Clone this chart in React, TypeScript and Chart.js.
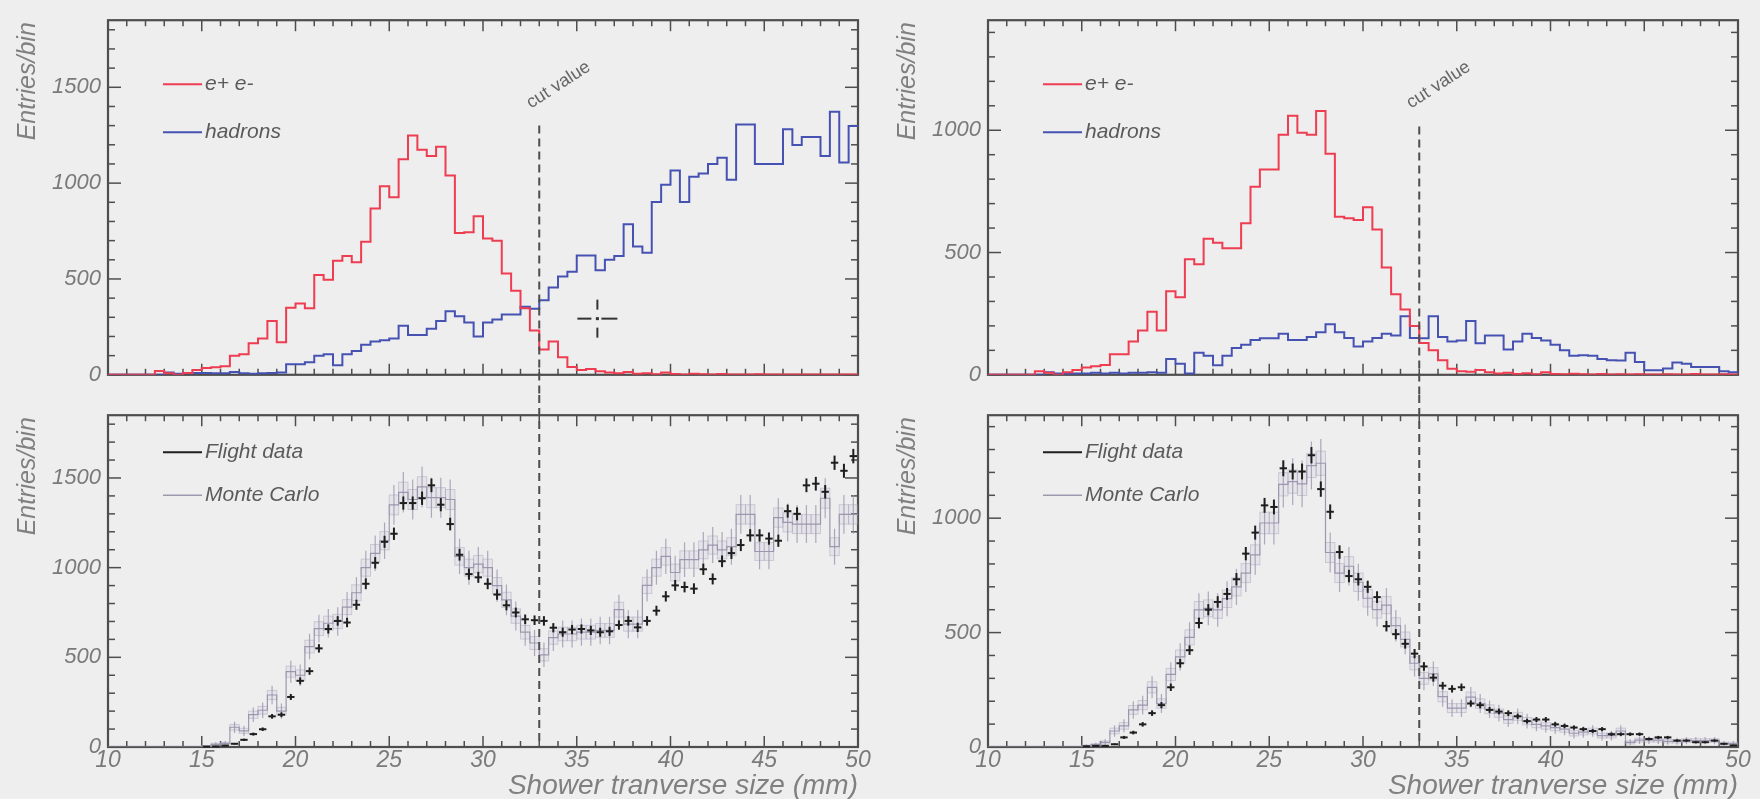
import React, { useEffect, useRef } from 'react';
import { Chart, registerables } from 'chart.js';

Chart.register(...registerables);

// ---------------- data ----------------
const X_MIN = 10;
const X_MAX = 50;
const BIN_WIDTH = 0.5;
const X_TICK_VALUES = [10, 15, 20, 25, 30, 35, 40, 45, 50];
const Y_TICK_VALUES_LEFT = [0, 500, 1000, 1500];
const Y_TICK_VALUES_RIGHT = [0, 500, 1000];
const Y_MAX_LEFT = 1850;
const Y_MAX_RIGHT = 1450;
const CUT_VALUE = 33;
const CUT_LINE_TOP_LEFT = 1300;
const CUT_LINE_TOP_RIGHT = 1015;
const CURSOR_MARK_LEFT = { x: 36.1, y: 293 };

const LEGEND_TOP = ['e+ e-', 'hadrons'];
const LEGEND_BOTTOM = ['Flight data', 'Monte Carlo'];
const Y_TITLE = 'Entries/bin';
const X_TITLE = 'Shower tranverse size (mm)';
const CUT_LABEL = 'cut value';

// bins of 0.5 mm from 10 to 50 mm (80 bins)
const EPEM_LEFT = [
  0, 0, 0, 0, 0, 20, 8, 0, 10, 25,
  35, 40, 45, 99, 107, 165, 190, 281, 170, 350,
  372, 347, 521, 496, 595, 620, 587, 694, 868, 984,
  926, 1124, 1248, 1174, 1141, 1190, 1040, 740, 744, 827,
  711, 700, 529, 438, 347, 231, 132, 174, 91, 41,
  25, 30, 18, 12, 8, 15, 5, 8, 3, 12,
  4, 2, 5, 3, 2, 4, 1, 2, 1, 3,
  1, 2, 1, 1, 2, 1, 1, 2, 1, 1,
];
const HADRONS_LEFT = [
  0, 0, 0, 0, 0, 0, 12, 5, 8, 10,
  10, 8, 8, 15, 8, 6, 8, 10, 12, 55,
  55, 66, 99, 107, 50, 107, 124, 157, 174, 180,
  190, 256, 207, 207, 240, 281, 331, 306, 273, 200,
  273, 289, 314, 314, 355, 345, 389, 455, 513, 537,
  623, 623, 546, 600, 620, 785, 670, 637, 901, 992,
  1066, 901, 1033, 1050, 1100, 1133, 1017, 1306, 1306, 1100,
  1100, 1100, 1281, 1199, 1240, 1240, 1141, 1372, 1108, 1298,
];
const EPEM_RIGHT = [
  0, 0, 0, 0, 0, 15, 8, 0, 10, 20,
  30, 35, 40, 84, 84, 136, 181, 258, 181, 342,
  317, 472, 452, 556, 540, 517, 517, 620, 769, 840,
  840, 982, 1059, 990, 982, 1079, 904, 646, 640, 633,
  685, 594, 439, 329, 267, 200, 130, 100, 60, 25,
  15, 12, 20, 10, 5, 8, 3, 6, 2, 10,
  3, 2, 4, 2, 1, 3, 1, 2, 1, 2,
  1, 1, 2, 1, 1, 3, 1, 1, 2, 1,
];
const HADRONS_RIGHT = [
  0, 0, 0, 0, 0, 0, 10, 5, 3, 5,
  5, 8, 5, 8, 5, 8, 8, 10, 8, 65,
  45, 5, 90, 78, 39, 78, 110, 123, 142, 149,
  149, 168, 142, 142, 155, 174, 207, 174, 150, 116,
  136, 150, 168, 161, 239, 150, 149, 239, 155, 136,
  140, 220, 129, 161, 161, 103, 136, 168, 150, 140,
  123, 100, 78, 80, 78, 65, 60, 58, 90, 52,
  19, 19, 26, 50, 45, 32, 32, 32, 15, 10,
];
const FLIGHT_LEFT = [
  0, 0, 0, 0, 0, 0, 0, 0, 0, 0,
  2, 3, 8, 18, 40, 72, 99, 171, 180, 279,
  369, 423, 550, 658, 703, 694, 793, 910, 1027, 1144,
  1189, 1360, 1360, 1387, 1459, 1351, 1243, 1072, 964, 946,
  910, 850, 790, 750, 712, 707, 703, 665, 640, 655,
  658, 650, 640, 645, 680, 703, 667, 703, 760, 840,
  901, 892, 883, 991, 937, 1036, 1081, 1126, 1180, 1180,
  1162, 1150, 1315, 1300, 1459, 1468, 1423, 1585, 1540, 1622,
];
const MC_LEFT = [
  0, 0, 0, 0, 0, 0, 0, 0, 0, 0,
  5, 15, 20, 110, 90, 180, 205, 290, 200, 420,
  400, 560, 660, 690, 700, 780, 860, 1000, 1080, 1150,
  1350, 1420, 1380, 1450, 1390, 1390, 1380, 1063, 1000, 1020,
  1000, 900, 820, 730, 640, 580, 514, 610, 630, 630,
  640, 640, 650, 650, 766, 685, 685, 901, 1000, 1063,
  973, 1045, 1045, 1099, 1126, 1099, 1117, 1297, 1297, 1090,
  1090, 1279, 1252, 1243, 1243, 1243, 1387, 1117, 1297, 1297,
];
const FLIGHT_RIGHT = [
  0, 0, 0, 0, 0, 0, 0, 0, 0, 0,
  3, 5, 5, 12, 42, 63, 99, 148, 183, 261,
  366, 423, 542, 600, 634, 669, 733, 845, 937, 1056,
  1049, 1218, 1204, 1204, 1275, 1127, 1028, 852, 747, 733,
  700, 655, 528, 493, 451, 408, 352, 303, 268, 254,
  261, 190, 183, 162, 155, 148, 134, 113, 120, 120,
  99, 92, 85, 78, 70, 78, 56, 56, 56, 56,
  35, 42, 42, 28, 28, 21, 21, 28, 14, 7,
];
const MC_RIGHT = [
  0, 0, 0, 0, 0, 0, 0, 0, 0, 0,
  5, 10, 20, 70, 92, 162, 183, 261, 190, 317,
  394, 479, 599, 606, 599, 648, 700, 760, 840, 979,
  979, 1148, 1160, 1150, 1230, 1240, 850, 760, 790, 720,
  650, 600, 620, 530, 470, 366, 300, 320, 220, 170,
  170, 218, 190, 165, 148, 120, 134, 113, 99, 92,
  85, 78, 60, 65, 70, 50, 50, 70, 20, 30,
  30, 30, 25, 25, 28, 28, 28, 28, 15, 15,
];

// error bar sizes (in units of sqrt(N))
const DATA_ERR_SIGMA = 1;
const MC_BAR_SIGMA = 3;
const MC_BOX_SIGMA = 1.5;

// ---------------- styles ----------------
const BG = '#eeeeee';
const FRAME = '#4e4e4e';
const LABEL = '#7a7a7a';
const RED = '#ee3c50';
const BLUE = '#4652b2';
const BLACK = '#1e1e1e';
const MC_LINE = 'rgba(150,143,168,0.9)';
const MC_BOX = 'rgba(185,178,205,0.16)';
const FONT = '"Liberation Sans", Arial, sans-serif';

const PANEL_W = 880;
const TOP_H = 395;
const BOT_H = 404;
const Y_AXIS_W = 108;
const PAD_RIGHT = 22;
const TOP_PAD_TOP = 11;
const TOP_X_H = 10;
const BOT_PAD_TOP = 8;
const BOT_X_H = 52;

type PanelSpec = {
  kind: 'top' | 'bottom';
  yMax: number;
  yTicks: number[];
  a: number[];
  b: number[];
  cutTop?: number;
  cursor?: { x: number; y: number };
};

function edgeData(values: number[]) {
  const pts = values.map((v, i) => ({ x: X_MIN + i * BIN_WIDTH, y: v }));
  pts.push({ x: X_MAX, y: values[values.length - 1] });
  return pts;
}
function centerData(values: number[]) {
  return values.map((v, i) => ({ x: X_MIN + (i + 0.5) * BIN_WIDTH, y: v }));
}

function seg(ctx: CanvasRenderingContext2D, x1: number, y1: number, x2: number, y2: number) {
  ctx.beginPath();
  ctx.moveTo(x1, y1);
  ctx.lineTo(x2, y2);
  ctx.stroke();
}

function makePlugin(spec: PanelSpec) {
  return {
    id: 'panelDecor',
    beforeDatasetsDraw(chart: any) {
      const { ctx, chartArea: a } = chart;
      const xs = chart.scales.x;
      const ys = chart.scales.y;
      ctx.save();
      ctx.strokeStyle = FRAME;
      ctx.lineWidth = 1.5;
      for (let v = X_MIN; v <= X_MAX; v += 1) {
        const px = xs.getPixelForValue(v);
        const len = v % 5 === 0 ? 11 : 6;
        seg(ctx, px, a.bottom, px, a.bottom - len);
        seg(ctx, px, a.top, px, a.top + len);
      }
      for (let v = 0; v <= spec.yMax; v += 100) {
        const py = ys.getPixelForValue(v);
        const len = v % 500 === 0 ? 13 : 7;
        seg(ctx, a.left, py, a.left + len, py);
        seg(ctx, a.right, py, a.right - len, py);
      }
      ctx.lineWidth = 2.2;
      ctx.strokeRect(a.left, a.top, a.right - a.left, a.bottom - a.top);

      if (spec.kind === 'bottom') {
        ctx.beginPath();
        ctx.rect(a.left, a.top, a.right - a.left, a.bottom - a.top);
        ctx.clip();
        spec.b.forEach((v, i) => {
          if (v <= 0) return;
          const xl = xs.getPixelForValue(X_MIN + i * BIN_WIDTH);
          const xr = xs.getPixelForValue(X_MIN + (i + 1) * BIN_WIDTH);
          const xc = (xl + xr) / 2;
          const eb = MC_BOX_SIGMA * Math.sqrt(v);
          const el = MC_BAR_SIGMA * Math.sqrt(v);
          const yt = ys.getPixelForValue(v + eb);
          const yb = ys.getPixelForValue(Math.max(0, v - eb));
          ctx.fillStyle = MC_BOX;
          ctx.fillRect(xl, yt, xr - xl, yb - yt);
          ctx.strokeStyle = 'rgba(165,158,185,0.45)';
          ctx.lineWidth = 1;
          ctx.strokeRect(xl, yt, xr - xl, yb - yt);
          ctx.strokeStyle = 'rgba(150,143,170,0.75)';
          ctx.lineWidth = 1.2;
          seg(ctx, xc, ys.getPixelForValue(v + el), xc, ys.getPixelForValue(Math.max(0, v - el)));
        });
      }
      ctx.restore();
    },
    afterDatasetsDraw(chart: any) {
      const { ctx, chartArea: a } = chart;
      const xs = chart.scales.x;
      const ys = chart.scales.y;
      ctx.save();
      if (spec.kind === 'bottom') {
        ctx.strokeStyle = BLACK;
        ctx.lineWidth = 2;
        spec.a.forEach((v, i) => {
          if (v <= 0) return;
          const xl = xs.getPixelForValue(X_MIN + i * BIN_WIDTH);
          const xr = xs.getPixelForValue(X_MIN + (i + 1) * BIN_WIDTH);
          const xc = (xl + xr) / 2;
          const e = DATA_ERR_SIGMA * Math.sqrt(v);
          const py = ys.getPixelForValue(v);
          seg(ctx, xl + 1, py, xr - 1, py);
          seg(ctx, xc, ys.getPixelForValue(v + e), xc, ys.getPixelForValue(Math.max(0, v - e)));
        });
      }
      const cx = xs.getPixelForValue(CUT_VALUE);
      ctx.strokeStyle = '#4e4e4e';
      ctx.lineWidth = 2;
      ctx.setLineDash([8, 5]);
      const y0 = spec.kind === 'top' ? ys.getPixelForValue(spec.cutTop as number) : 0;
      const y1 = spec.kind === 'top' ? chart.height : a.bottom;
      seg(ctx, cx, y0, cx, y1);
      ctx.setLineDash([]);
      if (spec.cursor) {
        const px = xs.getPixelForValue(spec.cursor.x);
        const py = ys.getPixelForValue(spec.cursor.y);
        ctx.strokeStyle = '#333333';
        ctx.lineWidth = 2;
        seg(ctx, px - 20, py, px - 6, py);
        seg(ctx, px + 4, py, px + 20, py);
        seg(ctx, px, py - 19, px, py - 9);
        seg(ctx, px, py + 9, px, py + 19);
        ctx.fillStyle = '#333333';
        ctx.fillRect(px - 1.5, py - 1.5, 3, 3);
      }
      ctx.restore();
    },
    afterDraw(chart: any) {
      const { ctx, chartArea: a } = chart;
      const xs = chart.scales.x;
      ctx.save();
      ctx.fillStyle = '#808080';
      ctx.font = `italic 25px ${FONT}`;
      ctx.translate(28, a.top + 2);
      ctx.rotate(-Math.PI / 2);
      ctx.textAlign = 'right';
      ctx.textBaseline = 'middle';
      ctx.fillText(Y_TITLE, 0, 0);
      ctx.restore();

      ctx.save();
      const labels = spec.kind === 'top' ? LEGEND_TOP : LEGEND_BOTTOM;
      const colors = spec.kind === 'top' ? [RED, BLUE] : [BLACK, MC_LINE];
      const widths = spec.kind === 'top' ? [2, 2] : [2, 1.4];
      const ly = spec.kind === 'top' ? [a.top + 64, a.top + 112] : [a.top + 37, a.top + 80];
      labels.forEach((lab, k) => {
        ctx.strokeStyle = colors[k];
        ctx.lineWidth = widths[k];
        seg(ctx, a.left + 55, ly[k], a.left + 94, ly[k]);
        ctx.fillStyle = '#5a5a5a';
        ctx.font = `italic 21px ${FONT}`;
        ctx.textAlign = 'left';
        ctx.textBaseline = 'middle';
        ctx.fillText(lab, a.left + 97, ly[k]);
      });
      if (spec.kind === 'top') {
        const cx = xs.getPixelForValue(CUT_VALUE);
        ctx.save();
        ctx.translate(cx - 6, a.top + 92);
        ctx.rotate(-33 * Math.PI / 180);
        ctx.font = `18px ${FONT}`;
        ctx.fillStyle = '#666666';
        ctx.textAlign = 'left';
        ctx.textBaseline = 'bottom';
        ctx.fillText(CUT_LABEL, 0, 0);
        ctx.restore();
      }
      if (spec.kind === 'bottom') {
        ctx.font = `italic 28px ${FONT}`;
        ctx.fillStyle = '#808080';
        ctx.textAlign = 'right';
        ctx.textBaseline = 'middle';
        ctx.fillText(X_TITLE, a.right, a.bottom + 39);
      }
      ctx.restore();
    },
  };
}

function buildConfig(spec: PanelSpec): any {
  const datasets =
    spec.kind === 'top'
      ? [
          { label: LEGEND_TOP[0], data: edgeData(spec.a), borderColor: RED, borderWidth: 2, stepped: 'before', pointRadius: 0, fill: false },
          { label: LEGEND_TOP[1], data: edgeData(spec.b), borderColor: BLUE, borderWidth: 2, stepped: 'before', pointRadius: 0, fill: false },
        ]
      : [
          { label: LEGEND_BOTTOM[0], data: centerData(spec.a), showLine: false, pointRadius: 0, borderColor: BLACK },
          { label: LEGEND_BOTTOM[1], data: edgeData(spec.b), borderColor: MC_LINE, borderWidth: 1.2, stepped: 'before', pointRadius: 0, fill: false },
        ];
  const isTop = spec.kind === 'top';
  return {
    type: 'line',
    data: { datasets },
    options: {
      responsive: false,
      animation: false,
      devicePixelRatio: 1,
      layout: { padding: { left: 0, right: PAD_RIGHT, top: isTop ? TOP_PAD_TOP : BOT_PAD_TOP, bottom: 0 } },
      plugins: { legend: { display: false }, tooltip: { enabled: false } },
      scales: {
        x: {
          type: 'linear',
          min: X_MIN,
          max: X_MAX,
          grid: { display: false, drawTicks: false },
          border: { display: false },
          afterBuildTicks: (s: any) => {
            s.ticks = X_TICK_VALUES.map((v) => ({ value: v }));
          },
          afterFit: (s: any) => {
            s.height = isTop ? TOP_X_H : BOT_X_H;
          },
          ticks: {
            display: !isTop,
            autoSkip: false,
            maxRotation: 0,
            minRotation: 0,
            padding: 0,
            color: LABEL,
            font: { family: FONT, style: 'italic', size: 23 },
            callback: (v: any) => String(v),
          },
        },
        y: {
          type: 'linear',
          min: 0,
          max: spec.yMax,
          grid: { display: false, drawTicks: false },
          border: { display: false },
          afterBuildTicks: (s: any) => {
            s.ticks = spec.yTicks.map((v) => ({ value: v }));
          },
          afterFit: (s: any) => {
            s.width = Y_AXIS_W;
          },
          ticks: {
            padding: 7,
            color: LABEL,
            font: { family: FONT, style: 'italic', size: 22 },
            callback: (v: any) => String(v),
          },
        },
      },
    },
    plugins: [makePlugin(spec)],
  };
}

function Panel({ spec, left, top, height }: { spec: PanelSpec; left: number; top: number; height: number }) {
  const ref = useRef<HTMLCanvasElement>(null);
  useEffect(() => {
    const chart = new Chart(ref.current as HTMLCanvasElement, buildConfig(spec));
    return () => chart.destroy();
  }, []);
  return (
    <canvas
      ref={ref}
      width={PANEL_W}
      height={height}
      style={{ position: 'absolute', left, top, width: PANEL_W, height }}
    />
  );
}

const SPEC_TL: PanelSpec = { kind: 'top', yMax: Y_MAX_LEFT, yTicks: Y_TICK_VALUES_LEFT, a: EPEM_LEFT, b: HADRONS_LEFT, cutTop: CUT_LINE_TOP_LEFT, cursor: CURSOR_MARK_LEFT };
const SPEC_TR: PanelSpec = { kind: 'top', yMax: Y_MAX_RIGHT, yTicks: Y_TICK_VALUES_RIGHT, a: EPEM_RIGHT, b: HADRONS_RIGHT, cutTop: CUT_LINE_TOP_RIGHT };
const SPEC_BL: PanelSpec = { kind: 'bottom', yMax: Y_MAX_LEFT, yTicks: Y_TICK_VALUES_LEFT, a: FLIGHT_LEFT, b: MC_LEFT };
const SPEC_BR: PanelSpec = { kind: 'bottom', yMax: Y_MAX_RIGHT, yTicks: Y_TICK_VALUES_RIGHT, a: FLIGHT_RIGHT, b: MC_RIGHT };

export default function App() {
  return (
    <div style={{ position: 'absolute', left: 0, top: 0, width: 1760, height: 799, background: BG, overflow: 'hidden' }}>
      <Panel spec={SPEC_TL} left={0} top={0} height={TOP_H} />
      <Panel spec={SPEC_TR} left={PANEL_W} top={0} height={TOP_H} />
      <Panel spec={SPEC_BL} left={0} top={TOP_H} height={BOT_H} />
      <Panel spec={SPEC_BR} left={PANEL_W} top={TOP_H} height={BOT_H} />
    </div>
  );
}
